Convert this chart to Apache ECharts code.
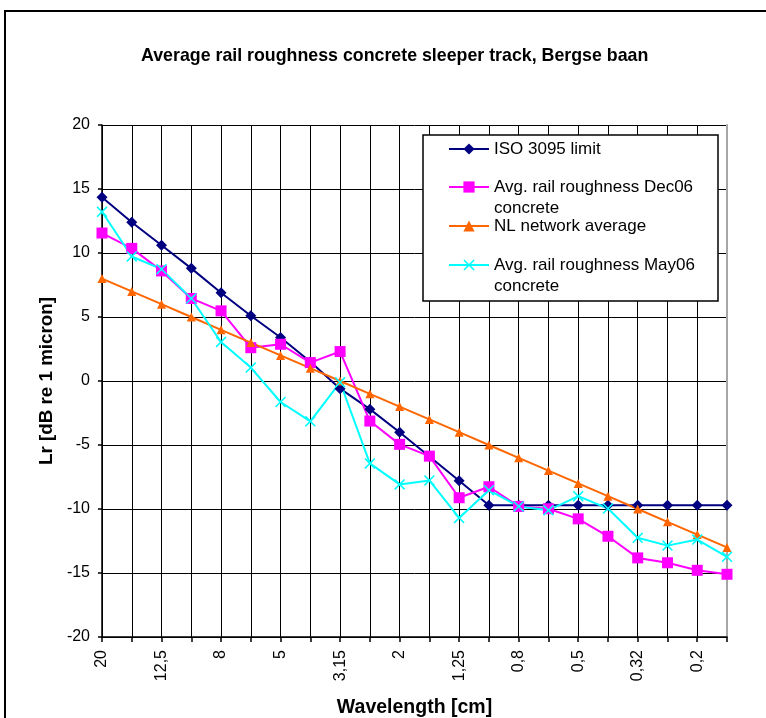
<!DOCTYPE html>
<html>
<head>
<meta charset="utf-8">
<script src="https://cdn.jsdelivr.net/npm/echarts@6/dist/echarts.min.js"></script>
<style>
  html, body { margin: 0; padding: 0; background: #fff; }
  #chart { width: 766px; height: 718px; }
</style>
</head>
<body>
<div id="chart"></div>
<script>
// wavelength bands (cm), third-octave, comma decimals as in the original
const wavelengths = ['20', '16', '12,5', '10', '8', '6,3', '5', '4', '3,15', '2,5', '2',
    '1,6', '1,25', '1', '0,8', '0,63', '0,5', '0,4', '0,32', '0,25', '0,2', '0,16'];

const isoLimit = [14.35, 12.4, 10.6, 8.8, 6.9, 5.1, 3.4, 1.5, -0.6, -2.2, -4.0,
    -5.9, -7.8, -9.7, -9.7, -9.7, -9.7, -9.7, -9.7, -9.7, -9.7, -9.7];
const dec06 = [11.56, 10.36, 8.6, 6.45, 5.48, 2.6, 2.87, 1.44, 2.3, -3.13, -4.95,
    -5.87, -9.12, -8.26, -9.8, -9.98, -10.77, -12.13, -13.82, -14.2, -14.79, -15.1];
const nlAverage = [8, 7, 6, 5, 4, 3, 2, 1, 0, -1, -2,
    -3, -4, -5, -6, -7, -8, -9, -10, -11, -12, -13];
const may06 = [13.22, 9.73, 8.74, 6.45, 3.05, 1.05, -1.64, -3.15, -0.1, -6.44, -8.08,
    -7.77, -10.7, -8.53, -9.8, -10.1, -9.0, -9.96, -12.25, -12.86, -12.39, -13.74];

const yTicks = { min: -20, max: 20, interval: 5 };

const names = {
    iso: 'ISO 3095 limit',
    dec: 'Avg. rail roughness Dec06 concrete',
    nl: 'NL network average',
    may: 'Avg. rail roughness May06 concrete',
};

const font = 'Liberation Sans, Arial, sans-serif';
const crossPath = 'path://M0,1L1,0L5,4L9,0L10,1L6,5L10,9L9,10L5,6L1,10L0,9L4,5Z';

const chart = echarts.init(document.getElementById('chart'));

// one legend per entry so the two-line labels can sit with the icon on the first line
function legendAt(name, top, label) {
    return {
        data: [name],
        left: 448,
        top: top,
        padding: 0,
        itemWidth: 40,
        itemHeight: 14,
        itemGap: 0,
        selectedMode: false,
        formatter: () => label,
        textStyle: { fontSize: 17, fontFamily: font, color: '#000', lineHeight: 21 },
    };
}

const option = {
    animation: false,
    backgroundColor: '#fff',
    title: {
        text: 'Average rail roughness concrete sleeper track, Bergse baan',
        left: 141,
        top: 42,
        padding: [5, 0, 5, 0],
        textStyle: { fontSize: 17.8, fontWeight: 'bold', fontFamily: font, color: '#000' },
    },
    graphic: [
        {
            type: 'rect', z: -10, silent: true,
            shape: { x: 5, y: 11, width: 820, height: 800 },
            style: { fill: 'none', stroke: '#000', lineWidth: 2 },
        },
        {
            type: 'rect', z: 3, silent: true,
            shape: { x: 423, y: 135, width: 295, height: 166 },
            style: { fill: '#fff', stroke: '#000', lineWidth: 1.5 },
        },
    ],
    legend: [
        legendAt(names.iso, 138.5, 'ISO 3095 limit'),
        legendAt(names.dec, 155.5, ' \nAvg. rail roughness Dec06\nconcrete'),
        legendAt(names.nl, 215.5, 'NL network average'),
        legendAt(names.may, 233.5, ' \nAvg. rail roughness May06\nconcrete'),
    ],
    grid: { left: 102, right: 39, top: 125, bottom: 81, outerBoundsMode: 'none' },
    xAxis: {
        type: 'category',
        data: wavelengths,
        boundaryGap: false,
        name: 'Wavelength [cm]',
        nameLocation: 'middle',
        nameGap: 61,
        nameTextStyle: { fontSize: 19.5, fontWeight: 'bold', fontFamily: font, color: '#000' },
        axisLine: { onZero: false, lineStyle: { color: '#000', width: 1.5 } },
        axisTick: { show: true, interval: 0, length: 5, lineStyle: { color: '#000', width: 1.5 } },
        axisLabel: {
            interval: 1, rotate: 90, margin: 13,
            fontSize: 16, fontFamily: font, color: '#000',
        },
        splitLine: { show: true, interval: 0, lineStyle: { color: '#000', width: 1 } },
    },
    yAxis: [
        {
            type: 'value',
            min: yTicks.min, max: yTicks.max, interval: yTicks.interval,
            name: 'Lr [dB re 1 micron]',
            nameLocation: 'middle',
            nameGap: 45,
            nameTextStyle: { fontSize: 18.8, fontWeight: 'bold', fontFamily: font, color: '#000' },
            axisLine: { show: true, onZero: false, lineStyle: { color: '#000', width: 1.5 } },
            axisTick: { show: true, length: 4, lineStyle: { color: '#000', width: 1.5 } },
            axisLabel: { margin: 12, fontSize: 16, fontFamily: font, color: '#000' },
            splitLine: { show: true, lineStyle: { color: '#000', width: 1 } },
        },
        {
            type: 'value',
            position: 'right',
            min: yTicks.min, max: yTicks.max, interval: yTicks.interval,
            axisLine: { show: true, onZero: false, lineStyle: { color: '#a6a6a6', width: 2 } },
            axisTick: { show: false },
            axisLabel: { show: false },
            splitLine: { show: false },
        },
    ],
    series: [
        {
            name: names.iso, type: 'line', data: isoLimit,
            symbol: 'diamond', symbolSize: 11,
            lineStyle: { color: '#000080', width: 2 },
            itemStyle: { color: '#000080' },
        },
        {
            name: names.dec, type: 'line', data: dec06,
            symbol: 'rect', symbolSize: 11,
            lineStyle: { color: '#ff00ff', width: 2 },
            itemStyle: { color: '#ff00ff' },
        },
        {
            name: names.nl, type: 'line', data: nlAverage,
            symbol: 'triangle', symbolSize: 9,
            lineStyle: { color: '#ff6600', width: 2 },
            itemStyle: { color: '#ff6600' },
        },
        {
            name: names.may, type: 'line', data: may06,
            symbol: crossPath, symbolSize: 11,
            lineStyle: { color: '#00ffff', width: 2 },
            itemStyle: { color: '#00ffff' },
        },
    ],
};

chart.setOption(option);
</script>
</body>
</html>
